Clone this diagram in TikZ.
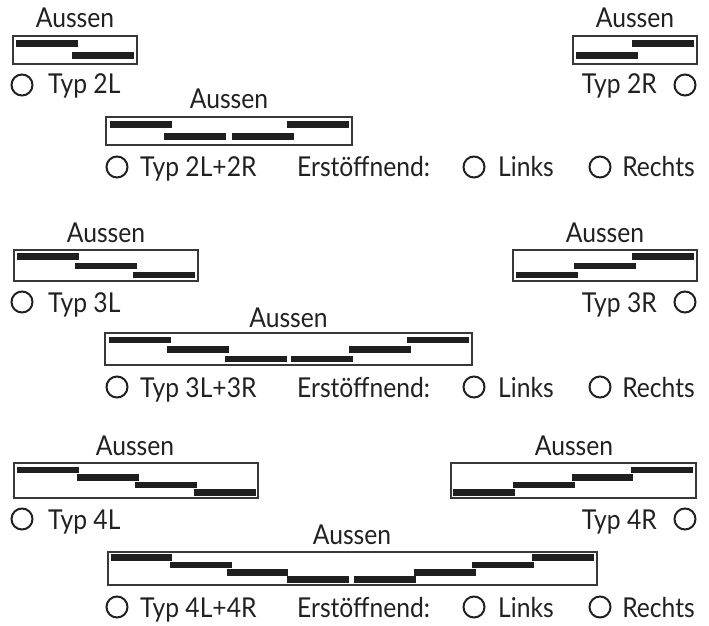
\documentclass[tikz,border=0pt]{standalone}
\usepackage{fontspec}
\setmainfont[FakeStretch=0.9]{Lato}
\newcommand{\dbar}[4]{\fill[barfill] (#1,#2) rectangle (#3,#4);}
\begin{document}
\begin{tikzpicture}[x=1bp,y=-1bp,
  frame/.style={draw=black!78, line width=1.4bp},
  barfill/.style={fill=black!88},
  txt/.style={font=\fontsize{27.5}{30}\selectfont, text=black!87, inner sep=0pt},
  radio/.style={circle, draw=black!87, line width=2bp, minimum size=21bp, inner sep=0pt}]
\useasboundingbox (0,0) rectangle (709,626);
% ---------- Row 1 ----------
\draw[frame] (13,36) rectangle (137,64);
\dbar{16}{40}{78}{47}\dbar{72}{52}{134}{59}
\node[txt, anchor=base] (a2L) at (75,28) {Aussen};
\node[radio] (r2L) at (22,85) {};
\node[txt, anchor=base west] (t2L) at (48,94) {Typ 2L};

\draw[frame] (573,36) rectangle (697,64);
\dbar{576}{52}{638}{59}\dbar{632}{40}{694}{47}
\node[txt, anchor=base] (a2R) at (635,28) {Aussen};
\node[radio] (r2R) at (685,85) {};
\node[txt, anchor=base east] (t2R) at (657,94) {Typ 2R};

\draw[frame] (106,117) rectangle (352,145);
\dbar{110}{121}{172}{128}\dbar{164}{133}{226}{140}
\dbar{232}{133}{294}{140}\dbar{287}{121}{349}{128}
\node[txt, anchor=base] (a2LR) at (229,109) {Aussen};
\node[radio] (r2LR) at (117,167) {};
\node[txt, anchor=base west] (t2LR) at (140,177) {Typ 2L+2R};
\node[txt, anchor=base west] (e2) at (297,177) {Erstöffnend:};
\node[radio] (rl2) at (474,167) {};
\node[txt, anchor=base west] (l2) at (498,177) {Links};
\node[radio] (rr2) at (600,167) {};
\node[txt, anchor=base east] (re2) at (695,177) {Rechts};
% ---------- Row 2 ----------
\draw[frame] (14,250) rectangle (198,281);
\dbar{17}{253}{79}{259.5}\dbar{75}{262.5}{137}{269}\dbar{133}{271.5}{195}{278}
\node[txt, anchor=base] (a3L) at (106,242) {Aussen};
\node[radio] (r3L) at (22,302) {};
\node[txt, anchor=base west] (t3L) at (48,312) {Typ 3L};

\draw[frame] (513,250) rectangle (697,281);
\dbar{516}{271.5}{578}{278}\dbar{574}{262.5}{636}{269}\dbar{632}{253}{694}{259.5}
\node[txt, anchor=base] (a3R) at (605,242) {Aussen};
\node[radio] (r3R) at (685,302) {};
\node[txt, anchor=base east] (t3R) at (657,312) {Typ 3R};

\draw[frame] (105,333) rectangle (472,365);
\dbar{109}{336.5}{171}{343}\dbar{167}{346}{229}{352.5}\dbar{225}{355.5}{287}{362}
\dbar{291}{355.5}{353}{362}\dbar{349}{346}{411}{352.5}\dbar{407}{336.5}{469}{343}
\node[txt, anchor=base] (a3LR) at (288.5,327) {Aussen};
\node[radio] (r3LR) at (117,387) {};
\node[txt, anchor=base west] (t3LR) at (140,397) {Typ 3L+3R};
\node[txt, anchor=base west] (e3) at (297,397) {Erstöffnend:};
\node[radio] (rl3) at (474,387) {};
\node[txt, anchor=base west] (l3) at (498,397) {Links};
\node[radio] (rr3) at (600,387) {};
\node[txt, anchor=base east] (re3) at (695,397) {Rechts};
% ---------- Row 3 ----------
\draw[frame] (14,463) rectangle (258,498);
\dbar{17}{466.5}{79}{473}\dbar{77}{474}{139}{480.5}\dbar{135}{481.5}{197}{488}\dbar{194}{489}{256}{495.5}
\node[txt, anchor=base] (a4L) at (135,455) {Aussen};
\node[radio] (r4L) at (22,519) {};
\node[txt, anchor=base west] (t4L) at (48,529) {Typ 4L};

\draw[frame] (451,463) rectangle (696,498);
\dbar{453}{489}{515}{495.5}\dbar{513}{481.5}{575}{488}\dbar{572}{474}{633}{480.5}\dbar{631}{466.5}{693}{473}
\node[txt, anchor=base] (a4R) at (574,455) {Aussen};
\node[radio] (r4R) at (685,519) {};
\node[txt, anchor=base east] (t4R) at (657,529) {Typ 4R};

\draw[frame] (108,552) rectangle (597,585);
\dbar{111}{554}{172}{560.5}\dbar{170}{561.5}{232}{568}\dbar{227}{569}{288}{575.5}\dbar{287}{576}{349}{582.5}
\dbar{354}{576}{416}{582.5}\dbar{414}{569}{476}{575.5}\dbar{472}{561.5}{534}{568}\dbar{532}{554}{594}{560.5}
\node[txt, anchor=base] (a4LR) at (352,544) {Aussen};
\node[radio] (r4LR) at (117,607) {};
\node[txt, anchor=base west] (t4LR) at (140,617) {Typ 4L+4R};
\node[txt, anchor=base west] (e4) at (297,617) {Erstöffnend:};
\node[radio] (rl4) at (474,607) {};
\node[txt, anchor=base west] (l4) at (498,617) {Links};
\node[radio] (rr4) at (600,607) {};
\node[txt, anchor=base east] (re4) at (695,617) {Rechts};
\end{tikzpicture}
\end{document}
